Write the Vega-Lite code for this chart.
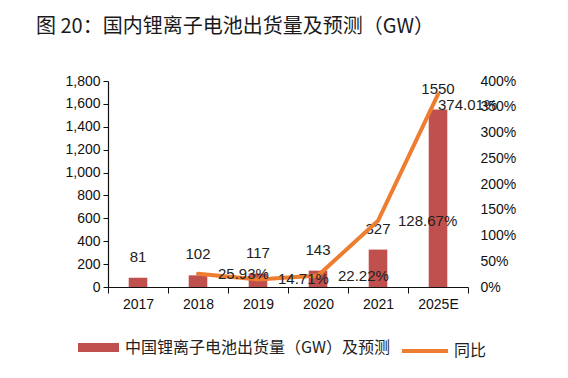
{
  "$schema": "https://vega.github.io/schema/vega-lite/v6.json",
  "width": 360,
  "height": 206,
  "autosize": {"type": "none"},
  "padding": {"left": 108, "top": 81, "right": 100, "bottom": 91},
  "background": "white",
  "config": {
    "view": {"stroke": null},
    "font": "Liberation Sans",
    "axis": {"labelFont": "Liberation Sans", "labelFontSize": 14, "labelColor": "#111", "domainColor": "#111", "tickColor": "#111", "grid": false, "title": null}
  },
  "title": {
    "text": "图 20：国内锂离子电池出货量及预测（GW）",
    "font": "Noto Sans CJK SC",
    "fontSize": 20,
    "fontWeight": "normal",
    "color": "#1a1a1a",
    "anchor": "start",
    "frame": "group",
    "dx": -72,
    "offset": 37
  },
  "data": {
    "values": [
      {"year": "2017", "value": 81, "yoy": null},
      {"year": "2018", "value": 102, "yoy": 0.2593},
      {"year": "2019", "value": 117, "yoy": 0.1471},
      {"year": "2020", "value": 143, "yoy": 0.2222},
      {"year": "2021", "value": 327, "yoy": 1.2867},
      {"year": "2025E", "value": 1550, "yoy": 3.7401}
    ]
  },
  "encoding": {
    "x": {
      "field": "year",
      "type": "ordinal",
      "sort": null,
      "scale": {"paddingInner": 0, "paddingOuter": 0},
      "axis": {"labelAngle": 0, "tickBand": "extent", "tickSize": 6, "labelPadding": 4, "domainWidth": 1.2}
    }
  },
  "layer": [
    {
      "encoding": {
        "y": {
          "field": "value",
          "type": "quantitative",
          "scale": {"domain": [0, 1800]},
          "axis": {"orient": "left", "values": [0, 200, 400, 600, 800, 1000, 1200, 1400, 1600, 1800], "format": ",.0f", "tickSize": 5, "labelPadding": 3, "domainWidth": 1.2}
        }
      },
      "layer": [
        {
          "mark": {"type": "bar", "width": {"band": 0.31}},
          "encoding": {
            "fill": {"datum": "中国锂离子电池出货量（GW）及预测", "type": "nominal", "scale": {"range": ["#C0504D"]},
              "legend": {"orient": "none", "legendX": -30, "legendY": 246, "title": null, "symbolType": "M-1,-0.22L1,-0.22L1,0.22L-1,0.22Z", "symbolSize": 1681, "labelFont": "Noto Sans CJK SC", "labelFontSize": 16, "labelColor": "#222", "labelOffset": 6, "labelLimit": 400, "symbolStrokeWidth": 0}}
          }
        },
        {
          "mark": {"type": "text", "dy": -21, "baseline": "middle", "fontSize": 15, "color": "#222"},
          "encoding": {"text": {"field": "value", "type": "quantitative", "format": "d"}}
        }
      ]
    },
    {
      "transform": [{"filter": "datum.yoy != null"}],
      "encoding": {
        "y": {
          "field": "yoy",
          "type": "quantitative",
          "scale": {"domain": [0, 4]},
          "axis": {"orient": "right", "values": [0, 0.5, 1, 1.5, 2, 2.5, 3, 3.5, 4], "format": ".0%", "domain": false, "ticks": false, "labelPadding": 12}
        }
      },
      "layer": [
        {
          "mark": {"type": "line", "strokeWidth": 4, "strokeCap": "round"},
          "encoding": {
            "stroke": {"datum": "同比", "type": "nominal", "scale": {"range": ["#ED7D31"]},
              "legend": {"orient": "none", "legendX": 292, "legendY": 245, "title": null, "symbolType": "stroke", "symbolSize": 2116, "symbolStrokeWidth": 4, "labelFont": "Noto Sans CJK SC", "labelFontSize": 16, "labelColor": "#222", "labelOffset": 4}}
          }
        },
        {
          "transform": [{"filter": "datum.year != '2025E'"}],
          "mark": {"type": "text", "align": "left", "dx": 20, "baseline": "middle", "fontSize": 15, "color": "#222"},
          "encoding": {"text": {"field": "yoy", "type": "quantitative", "format": ".2%"}}
        },
        {
          "transform": [{"filter": "datum.year == '2025E'"}],
          "mark": {"type": "text", "align": "left", "dx": 0, "dy": 11, "baseline": "middle", "fontSize": 15, "color": "#222"},
          "encoding": {"text": {"field": "yoy", "type": "quantitative", "format": ".2%"}}
        }
      ]
    }
  ],
  "resolve": {"scale": {"y": "independent"}}
}
